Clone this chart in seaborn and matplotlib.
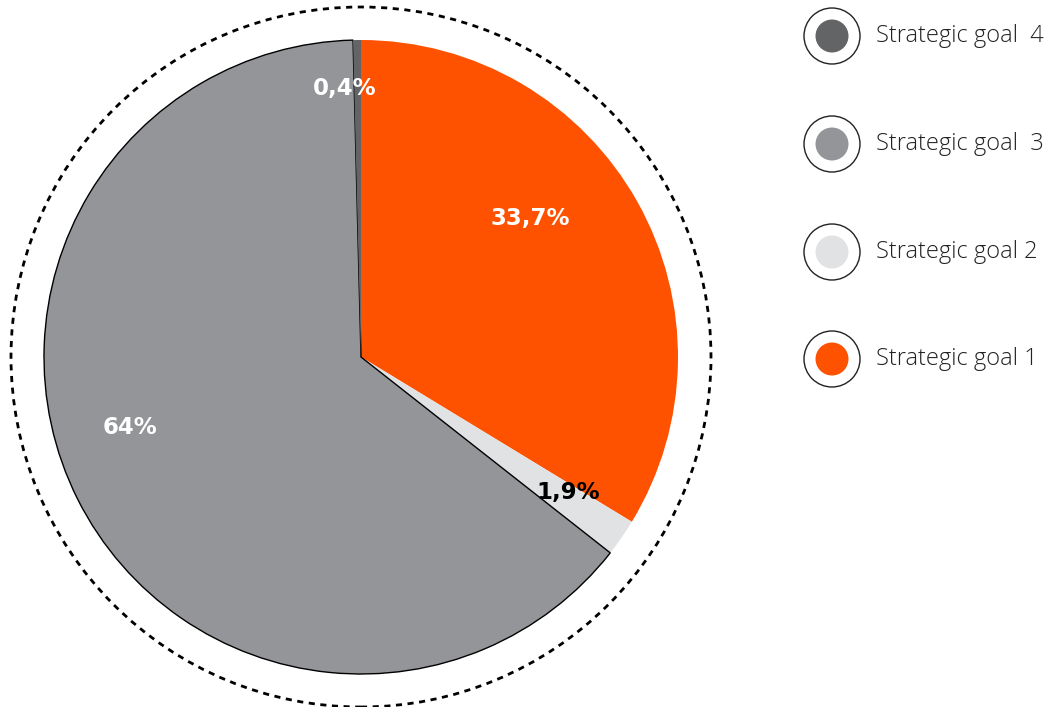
import matplotlib
matplotlib.use("Agg")
import matplotlib.pyplot as plt
from matplotlib.patches import Circle
import seaborn as sns

categories = ["Strategic goal 1", "Strategic goal 2", "Strategic goal  3", "Strategic goal  4"]
values = [33.7, 1.9, 64.0, 0.4]
value_labels = ["33,7%", "1,9%", "64%", "0,4%"]
colors = ["#FF5200", "#E1E2E3", "#939598", "#636466"]
label_colors = ["white", "black", "white", "white"]
legend_order = [3, 2, 1, 0]

sns.set_theme(style="white")
plt.rcParams['font.family'] = ['DejaVu Sans']

W, H = 1048, 707
fig = plt.figure(figsize=(W / 100, H / 100), dpi=100)
ax = fig.add_axes([0, 0, 1, 1])

cx, cy, r = 361, H - 357, 317
wedges, _ = ax.pie(values, colors=colors, startangle=90, counterclock=False,
                   center=(cx, cy), radius=r, frame=True,
                   wedgeprops=dict(linewidth=0))
ax.set_xlim(0, W)
ax.set_ylim(0, H)
ax.set_aspect('equal')
ax.axis('off')
wedges[2].set_edgecolor('black')
wedges[2].set_linewidth(1.0)

ax.add_patch(Circle((cx, cy), 350, fill=False, ls=(0, (2.2, 2.0)), lw=2.0, ec='black'))

label_pos = [(530, 218), (568, 492), (130, 427), (345, 89)]
for (x, y), t, c in zip(label_pos, value_labels, label_colors):
    ax.text(x, H - y, t, ha='center', va='center', color=c, fontsize=16.5,
            fontweight='bold', family='DejaVu Sans')

row_y = [36, 144, 252, 359]
for yy, i in zip(row_y, legend_order):
    ax.add_patch(Circle((832, H - yy), 28, fill=False, ec='#222222', lw=1.0))
    ax.add_patch(Circle((832, H - yy), 16.5, fc=colors[i], ec='none'))
    ax.text(876, H - yy, categories[i], ha='left', va='center', fontsize=17,
            color='#222222', family='Open Sans', fontweight='light')

fig.savefig("out.png", dpi=100)
